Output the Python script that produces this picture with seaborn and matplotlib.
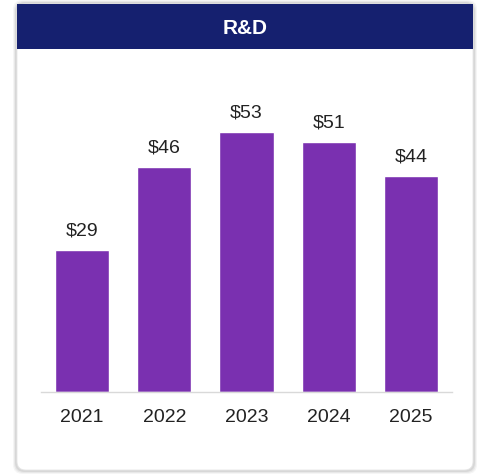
import matplotlib
matplotlib.use("Agg")
import matplotlib.pyplot as plt
from matplotlib.patches import FancyBboxPatch, Rectangle
import seaborn as sns
import pandas as pd

# R&D spend by year (in $)
years = ["2021", "2022", "2023", "2024", "2025"]
rd_spend = [29, 46, 53, 51, 44]
value_labels = ["$29", "$46", "$53", "$51", "$44"]
title = "R&D"

BAR_COLOR = "#7A30B0"
HEADER_COLOR = "#15206F"
TEXT_COLOR = "#222222"

sns.set_theme(style="white")
plt.rcParams["font.family"] = ["Liberation Sans", "DejaVu Sans"]

W, H = 482, 474
fig = plt.figure(figsize=(W / 100, H / 100), dpi=100)
fig.patch.set_facecolor("white")

def fx(px):
    return px / W

def fy(py):
    return 1 - py / H

# soft card shadow
for i, a in enumerate([0.04, 0.05, 0.07]):
    d = 4 - i
    fig.patches.append(FancyBboxPatch(
        (fx(17 - d), fy(470 + d)), fx(456 + 2 * d), (466 + 2 * d) / H,
        boxstyle="round,pad=0,rounding_size=0.02", transform=fig.transFigure,
        facecolor="black", edgecolor="none", alpha=a, zorder=0))

# card
fig.patches.append(FancyBboxPatch(
    (fx(17), fy(470)), fx(456), 466 / H,
    boxstyle="round,pad=0,rounding_size=0.018", transform=fig.transFigure,
    facecolor="white", edgecolor="#E6E6E6", linewidth=0.6, zorder=1))

# header band
fig.patches.append(Rectangle(
    (fx(17), fy(49)), fx(456), 45 / H, transform=fig.transFigure,
    facecolor=HEADER_COLOR, edgecolor="none", zorder=2))
fig.text(fx(245), fy(28), title, color="white", fontsize=15,
         fontweight="bold", ha="center", va="center", zorder=3)

ax = fig.add_axes([fx(41), 82 / H, fx(411), 294 / H])
ax.set_facecolor("none")
ax.set_zorder(3)

df = pd.DataFrame({"year": years, "spend": rd_spend})
sns.barplot(data=df, x="year", y="spend", color=BAR_COLOR, saturation=1,
            width=0.66, ax=ax)

ax.set_ylim(0, 60)
ax.set_xlim(-0.5, 4.5)
for bar, lab in zip(ax.patches, value_labels):
    ax.annotate(lab, (bar.get_x() + bar.get_width() / 2, bar.get_height()),
                xytext=(0, 7.5), textcoords="offset points",
                ha="center", va="bottom", fontsize=14, color=TEXT_COLOR)

ax.set_xlabel("")
ax.set_ylabel("")
ax.set_yticks([])
for side in ["top", "right", "left"]:
    ax.spines[side].set_visible(False)
ax.spines["bottom"].set_color("#D9D9D9")
ax.spines["bottom"].set_linewidth(1.0)
ax.tick_params(axis="x", length=0, pad=12.5, labelsize=14, labelcolor=TEXT_COLOR)

fig.savefig("out.png", dpi=100)
